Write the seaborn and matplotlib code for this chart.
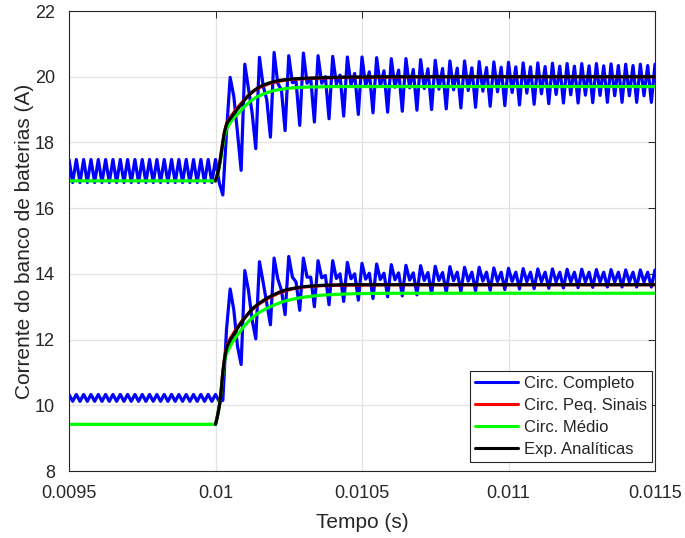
import numpy as np
import pandas as pd
import matplotlib
matplotlib.use("Agg")
import matplotlib.pyplot as plt
import seaborn as sns

# ---------------------------------------------------------------
# Data: battery bank current (A) around a load step at t = 0.01 s
# ---------------------------------------------------------------
t_start = 0.0095          # s
dt_sample = 12.5e-6       # s, half of the switching ripple period

# Full switched circuit ("Circ. Completo"), upper operating point
top_pre_peaks = [17.48, 17.48, 17.48, 17.48, 17.48, 17.48, 17.48, 17.48, 17.48, 17.48, 17.48,
                 17.48, 17.48, 17.48, 17.48, 17.48, 17.48, 17.48, 17.48, 17.48, 17.48]
top_pre_troughs = [16.78, 16.78, 16.78, 16.78, 16.78, 16.78, 16.78, 16.78, 16.78, 16.78, 16.78,
                   16.78, 16.78, 16.78, 16.78, 16.78, 16.78, 16.78, 16.78, 16.78, 16.78]
top_step = [16.40, 18.30]
top_big = [19.98, 20.38, 20.59, 20.74, 20.64, 20.72, 20.64, 20.62, 20.60, 20.60, 20.58, 20.55,
           20.55, 20.52, 20.50, 20.48, 20.48, 20.46, 20.45, 20.44, 20.42, 20.42, 20.41, 20.40,
           20.40, 20.40, 20.39, 20.38, 20.38, 20.38]
top_shoulder = [19.40, 19.63, 19.73, 19.80, 19.82, 19.80, 19.80, 19.78, 19.75, 19.72, 19.70,
                19.68, 19.66, 19.64, 19.62, 19.60, 19.58, 19.56, 19.54, 19.52, 19.50, 19.48,
                19.46, 19.45, 19.44, 19.43, 19.42, 19.42, 19.42]
top_small = [18.30, 18.90, 19.30, 19.60, 19.85, 19.95, 20.00, 20.05, 20.10, 20.15, 20.18, 20.20,
             20.22, 20.24, 20.25, 20.26, 20.27, 20.28, 20.29, 20.30, 20.30, 20.31, 20.32, 20.32,
             20.33, 20.33, 20.34, 20.34, 20.34]
top_deep = [17.15, 17.81, 18.16, 18.36, 18.52, 18.62, 18.72, 18.80, 18.85, 18.90, 18.92, 18.95,
            18.98, 19.00, 19.02, 19.05, 19.07, 19.10, 19.12, 19.14, 19.16, 19.18, 19.20, 19.20,
            19.21, 19.22, 19.22, 19.22, 19.22]

# Full switched circuit, lower operating point
bot_pre_peaks = [10.33, 10.33, 10.33, 10.33, 10.33, 10.33, 10.33, 10.33, 10.33, 10.33, 10.33,
                 10.33, 10.33, 10.33, 10.33, 10.33, 10.33, 10.33, 10.33, 10.33, 10.33]
bot_pre_troughs = [10.12, 10.12, 10.12, 10.12, 10.12, 10.12, 10.12, 10.12, 10.12, 10.12, 10.12,
                   10.12, 10.12, 10.12, 10.12, 10.12, 10.12, 10.12, 10.12, 10.12, 10.12]
bot_step = [10.15, 12.30]
bot_big = [13.54, 14.10, 14.37, 14.48, 14.53, 14.48, 14.40, 14.40, 14.35, 14.32, 14.30, 14.28,
           14.26, 14.25, 14.23, 14.22, 14.20, 14.20, 14.18, 14.17, 14.16, 14.15, 14.15, 14.14,
           14.14, 14.13, 14.13, 14.12, 14.12, 14.12]
bot_shoulder = [12.90, 13.50, 13.75, 13.85, 13.90, 13.90, 13.88, 13.86, 13.85, 13.84, 13.83,
                13.82, 13.81, 13.80, 13.80, 13.79, 13.78, 13.78, 13.77, 13.77, 13.76, 13.76,
                13.75, 13.75, 13.75, 13.75, 13.75, 13.75, 13.75]
bot_small = [11.80, 12.60, 13.10, 13.50, 13.75, 13.90, 13.95, 14.00, 14.00, 14.02, 14.02, 14.03,
             14.03, 14.04, 14.04, 14.05, 14.05, 14.05, 14.05, 14.05, 14.05, 14.05, 14.05, 14.05,
             14.05, 14.05, 14.05, 14.05, 14.05]
bot_deep = [11.24, 12.02, 12.45, 12.76, 12.89, 13.00, 13.06, 13.16, 13.20, 13.25, 13.30, 13.33,
            13.36, 13.40, 13.43, 13.46, 13.48, 13.50, 13.52, 13.54, 13.55, 13.56, 13.57, 13.58,
            13.59, 13.60, 13.60, 13.60, 13.60]

# Averaged / small-signal / analytical responses
t_model = [0.0100, 0.010005, 0.01001, 0.010015, 0.01002, 0.010025, 0.01003, 0.010035, 0.01004,
           0.01005, 0.01006, 0.01007, 0.01008, 0.01009, 0.0101, 0.01011, 0.01012, 0.01013,
           0.01014, 0.01015, 0.01016, 0.01018, 0.0102, 0.01022, 0.01024, 0.01026, 0.01028,
           0.0103, 0.01033, 0.01036, 0.0104, 0.01045, 0.0105, 0.0106, 0.0108, 0.0115]

top_analytic = [16.83, 16.98, 17.15, 17.40, 17.70, 18.00, 18.28, 18.47, 18.60, 18.72, 18.84,
                18.96, 19.07, 19.18, 19.30, 19.40, 19.49, 19.57, 19.63, 19.69, 19.73, 19.80,
                19.85, 19.89, 19.91, 19.93, 19.94, 19.95, 19.96, 19.97, 19.98, 19.99, 19.99,
                20.00, 20.00, 20.00]
top_small_signal = [16.83, 16.98, 17.16, 17.42, 17.72, 18.02, 18.30, 18.48, 18.62, 18.76, 18.88,
                    19.00, 19.11, 19.21, 19.32, 19.41, 19.49, 19.56, 19.62, 19.67, 19.71, 19.78,
                    19.83, 19.87, 19.90, 19.92, 19.93, 19.94, 19.95, 19.96, 19.97, 19.98, 19.98,
                    19.99, 20.00, 20.00]
top_average = [16.83, 16.97, 17.13, 17.35, 17.62, 17.90, 18.15, 18.34, 18.45, 18.60, 18.72,
               18.82, 18.90, 19.00, 19.10, 19.18, 19.26, 19.32, 19.38, 19.42, 19.46, 19.53,
               19.58, 19.61, 19.64, 19.66, 19.67, 19.68, 19.69, 19.69, 19.70, 19.70, 19.70,
               19.70, 19.70, 19.70]

bot_analytic = [9.42, 9.60, 9.82, 10.08, 10.50, 11.00, 11.35, 11.62, 11.80, 11.98, 12.12,
                12.27, 12.41, 12.54, 12.66, 12.77, 12.88, 12.97, 13.04, 13.11, 13.17, 13.28,
                13.37, 13.45, 13.51, 13.55, 13.58, 13.61, 13.63, 13.65, 13.66, 13.67, 13.67,
                13.67, 13.67, 13.67]
bot_small_signal = [9.42, 9.60, 9.83, 10.10, 10.53, 11.03, 11.38, 11.65, 11.84, 12.03, 12.17,
                    12.31, 12.44, 12.56, 12.67, 12.77, 12.87, 12.95, 13.02, 13.09, 13.15, 13.26,
                    13.35, 13.43, 13.49, 13.54, 13.57, 13.60, 13.62, 13.64, 13.65, 13.66, 13.66,
                    13.67, 13.67, 13.67]
bot_average = [9.42, 9.60, 9.82, 10.08, 10.48, 10.95, 11.28, 11.50, 11.62, 11.80, 11.95,
               12.08, 12.20, 12.32, 12.43, 12.53, 12.62, 12.70, 12.77, 12.83, 12.88, 12.97,
               13.05, 13.12, 13.18, 13.22, 13.26, 13.29, 13.32, 13.35, 13.37, 13.39, 13.40,
               13.41, 13.41, 13.41]

# Steady average values before the step
top_average_pre = 16.83
bot_average_pre = 9.42

legend_labels = ["Circ. Completo", "Circ. Peq. Sinais", "Circ. Médio", "Exp. Analíticas"]
x_ticks = [0.0095, 0.01, 0.0105, 0.011, 0.0115]
x_tick_labels = ["0.0095", "0.01", "0.0105", "0.011", "0.0115"]
y_ticks = [8, 10, 12, 14, 16, 18, 20, 22]


def switched_waveform(pre_peaks, pre_troughs, step, big, shoulder, small, deep):
    """Assemble the ripple waveform sample by sample (one sample every dt_sample)."""
    pre = np.column_stack([pre_peaks, pre_troughs]).ravel()
    post = np.column_stack([big[:len(shoulder)], shoulder, small, deep]).ravel()
    values = np.concatenate([pre, step, post, big[len(shoulder):]])
    times = t_start + dt_sample * np.arange(len(values))
    return times, values


t_top, i_top = switched_waveform(top_pre_peaks, top_pre_troughs, top_step,
                                 top_big, top_shoulder, top_small, top_deep)
t_bot, i_bot = switched_waveform(bot_pre_peaks, bot_pre_troughs, bot_step,
                                 bot_big, bot_shoulder, bot_small, bot_deep)

t_avg = [t_start] + t_model

# ---------------------------------------------------------------
# Figure
# ---------------------------------------------------------------
sns.set_style("white")
plt.rcParams["font.family"] = ["Liberation Sans", "DejaVu Sans"]

fig = plt.figure(figsize=(6.85, 5.38), dpi=100)
ax = fig.add_axes([69 / 685, 1 - 471 / 538, 586 / 685, 460 / 538])

lw = 2.3
blue, red, green, black = "#0000ff", "#ff0000", "#00ff00", "#000000"

sns.lineplot(x=t_top, y=i_top, ax=ax, color=blue, lw=lw, sort=False, estimator=None,
             label=legend_labels[0])
sns.lineplot(x=t_bot, y=i_bot, ax=ax, color=blue, lw=lw, sort=False, estimator=None)

sns.lineplot(x=t_model, y=top_small_signal, ax=ax, color=red, lw=lw, sort=False,
             estimator=None, label=legend_labels[1])
sns.lineplot(x=t_model, y=bot_small_signal, ax=ax, color=red, lw=lw, sort=False, estimator=None)

sns.lineplot(x=t_avg, y=[top_average_pre] + top_average, ax=ax, color=green, lw=lw,
             sort=False, estimator=None, label=legend_labels[2])
sns.lineplot(x=t_avg, y=[bot_average_pre] + bot_average, ax=ax, color=green, lw=lw,
             sort=False, estimator=None)

sns.lineplot(x=t_model, y=top_analytic, ax=ax, color=black, lw=lw, sort=False,
             estimator=None, label=legend_labels[3])
sns.lineplot(x=t_model, y=bot_analytic, ax=ax, color=black, lw=lw, sort=False, estimator=None)

ax.set_xlim(0.0095, 0.0115)
ax.set_ylim(8, 22)
ax.set_xticks(x_ticks)
ax.set_xticklabels(x_tick_labels)
ax.set_yticks(y_ticks)

axis_color = "#262626"
ax.grid(True, color="#e3e3e3", linewidth=0.9)
ax.set_axisbelow(True)
for sp in ax.spines.values():
    sp.set_color(axis_color)
    sp.set_linewidth(0.8)
ax.tick_params(direction="in", top=True, right=True, length=5, width=0.7,
               colors=axis_color, labelsize=13)
ax.tick_params(axis="y", pad=10)
ax.tick_params(axis="x", pad=10)

ax.set_xlabel("Tempo (s)", fontsize=15, color=axis_color, labelpad=8)
ax.set_ylabel("Corrente do banco de baterias (A)", fontsize=15, color=axis_color, labelpad=1)

leg = ax.legend(loc="lower right", bbox_to_anchor=((652 - 69) / 586, (471 - 462) / 460),
                fontsize=12, frameon=True, fancybox=False,
                edgecolor=axis_color, framealpha=1, borderpad=0.3, handlelength=2.6,
                labelspacing=0.42, borderaxespad=0.0, handletextpad=0.35)
leg.get_frame().set_linewidth(0.8)
for line in leg.get_lines():
    line.set_linewidth(2.2)

fig.savefig("out.png", dpi=100)
